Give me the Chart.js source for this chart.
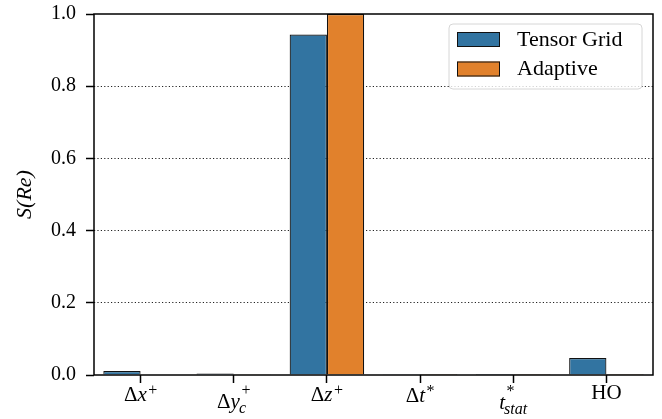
<!DOCTYPE html>
<html>
<head>
<meta charset="utf-8">
<script src="https://cdn.jsdelivr.net/npm/chart.js@4/dist/chart.umd.min.js"></script>
<style>
  html, body { margin: 0; padding: 0; background: #fff; }
  #wrap { width: 662px; height: 419px; }
</style>
</head>
<body>
<div id="wrap"><canvas id="myChart" width="662" height="419"></canvas></div>
<script>
// categories, written in a tiny TeX-like notation (^ sup, _ sub)
const categories = ['Δx^+', 'Δy_c^+', 'Δz^+', 'Δt^*', 't^*_{stat}', '\\mathrm{HO}']
const tensorGrid = [0.011, 0.004, 0.943, 0.0004, 0.0003, 0.047]
const adaptive = [0.0015, 0.0004, 1.0, 0.0002, 0.0002, 0.0025]
const yTicks = [0, 0.2, 0.4, 0.6, 0.8, 1.0]
const seriesNames = ['Tensor Grid', 'Adaptive']
const seriesColors = ['#3274a1', '#e1812c']

const SERIF = '"Liberation Serif", "DejaVu Serif", serif'

function parseMath(s) {
  let rm = false
  if (s.startsWith('\\mathrm{')) { s = s.slice(8, -1); rm = true }
  const atoms = []
  let i = 0
  const grab = () => {
    if (s[i] === '{') {
      const j = s.indexOf('}', i)
      const t = s.slice(i + 1, j)
      i = j + 1
      return t
    }
    return s[i++]
  }
  while (i < s.length) {
    const c = s[i]
    if (c === '^') { i++; atoms[atoms.length - 1].sup = grab() }
    else if (c === '_') { i++; atoms[atoms.length - 1].sub = grab() }
    else { atoms.push({ t: c, it: !rm && /[a-z]/i.test(c) }); i++ }
  }
  return atoms
}

function fontFor(size, italic) {
  return (italic ? 'italic ' : '') + size + 'px ' + SERIF
}

// draws the math-ish category labels under the x ticks
const mathLabels = {
  id: 'mathLabels',
  afterDraw(chart) {
    const { ctx, scales: { x } } = chart
    const F = 21
    const S = 16
    ctx.save()
    ctx.fillStyle = '#000'
    ctx.textBaseline = 'alphabetic'
    chart.data.labels.forEach((lab, i) => {
      const atoms = parseMath(lab)
      let width = 0
      let top = 0
      const laid = atoms.map(a => {
        ctx.font = fontFor(F, a.it)
        const m = ctx.measureText(a.t)
        top = Math.max(top, m.actualBoundingBoxAscent)
        const item = { a, x: width, w: m.width }
        width += m.width
        let extra = 0
        const both = a.sup && a.sub
        if (a.sup) {
          ctx.font = fontFor(S, /[a-z]/i.test(a.sup))
          const ms = ctx.measureText(a.sup)
          item.supShift = both ? 0.6 * F : 0.3 * F
          item.supX = width + (a.it ? 1.5 : 0.5)
          top = Math.max(top, item.supShift + ms.actualBoundingBoxAscent)
          extra = Math.max(extra, ms.width + (a.it ? 1.5 : 0.5))
        }
        if (a.sub) {
          ctx.font = fontFor(S, /[a-z]/i.test(a.sub))
          const ms = ctx.measureText(a.sub)
          item.subShift = both ? 0.28 * F : 0.2 * F
          item.subX = width - (a.it ? 1 : 0)
          extra = Math.max(extra, ms.width - (a.it ? 1 : 0))
        }
        width += extra
        return item
      })
      const cx = x.getPixelForTick(i)
      const left = cx - width / 2
      const base = x.top + 10 + top
      laid.forEach(it => {
        ctx.font = fontFor(F, it.a.it)
        ctx.fillText(it.a.t, left + it.x, base)
        if (it.a.sup) {
          ctx.font = fontFor(S, /[a-z]/i.test(it.a.sup))
          ctx.fillText(it.a.sup, left + it.supX, base - it.supShift)
        }
        if (it.a.sub) {
          ctx.font = fontFor(S, /[a-z]/i.test(it.a.sub))
          ctx.fillText(it.a.sub, left + it.subX, base + it.subShift)
        }
      })
    })
    ctx.restore()
  }
}

// axes frame on all four sides
const frame = {
  id: 'frame',
  afterDatasetsDraw(chart) {
    const { ctx, chartArea: a } = chart
    ctx.save()
    ctx.strokeStyle = '#000'
    ctx.lineWidth = 1.5
    ctx.strokeRect(a.left, a.top, a.right - a.left, a.bottom - a.top)
    ctx.restore()
  }
}

// boxed legend in the upper right corner
const boxLegend = {
  id: 'boxLegend',
  afterDraw(chart) {
    const { ctx, chartArea: a } = chart
    const w = 193, h = 65
    const x0 = a.right - 11 - w, y0 = a.top + 10
    ctx.save()
    ctx.beginPath()
    ctx.roundRect(x0, y0, w, h, 4)
    ctx.fillStyle = 'rgba(255,255,255,0.8)'
    ctx.fill()
    ctx.strokeStyle = '#d6d6d6'
    ctx.lineWidth = 1
    ctx.stroke()
    chart.data.datasets.forEach((ds, i) => {
      const sy = y0 + 8 + i * 29.5
      ctx.fillStyle = ds.backgroundColor
      ctx.fillRect(x0 + 8, sy, 43, 15)
      ctx.strokeStyle = '#111'
      ctx.lineWidth = 1
      ctx.strokeRect(x0 + 8.5, sy + 0.5, 42, 14)
      ctx.fillStyle = '#000'
      ctx.font = '22px ' + SERIF
      ctx.textBaseline = 'middle'
      ctx.fillText(ds.label, x0 + 68, sy + 8)
    })
    ctx.restore()
  }
}

const ctx = document.getElementById('myChart').getContext('2d')
new Chart(ctx, {
  type: 'bar',
  data: {
    labels: categories,
    datasets: [
      { label: seriesNames[0], data: tensorGrid, backgroundColor: seriesColors[0] },
      { label: seriesNames[1], data: adaptive, backgroundColor: seriesColors[1] }
    ]
  },
  options: {
    responsive: false,
    animation: false,
    devicePixelRatio: 1,
    layout: { padding: { top: 14, right: 9, bottom: 0, left: 0 } },
    datasets: {
      bar: {
        categoryPercentage: 0.8,
        barPercentage: 1.0,
        borderColor: '#111',
        borderWidth: 1.2
      }
    },
    plugins: {
      legend: { display: false },
      tooltip: { enabled: false }
    },
    scales: {
      x: {
        grid: { offset: false, drawOnChartArea: false, tickLength: 8, tickColor: '#000', tickWidth: 1.5 },
        border: { display: false },
        ticks: { display: false },
        afterFit: s => { s.height = 44; s.paddingLeft = 0; s.paddingRight = 0 }
      },
      y: {
        min: 0,
        max: 1,
        afterBuildTicks: s => { s.ticks = yTicks.map(v => ({ value: v })) },
        grid: {
          color: c => (c.tick && c.tick.value > 0 && c.tick.value < 1) ? '#222' : 'rgba(0,0,0,0)',
          lineWidth: 1,
          tickLength: 8,
          tickColor: '#000',
          tickWidth: 1.5,
          tickBorderDash: []
        },
        border: { display: false, dash: [1.2, 2.2] },
        ticks: {
          padding: 10,
          color: '#000',
          font: { family: SERIF, size: 20 },
          callback: v => Number(v).toFixed(1)
        },
        title: {
          display: true,
          text: 'S(Re)',
          color: '#000',
          font: { family: SERIF, size: 22, style: 'italic' },
          padding: { top: 12, bottom: 0 }
        },
        afterFit: s => { s.width = 94; s.paddingTop = 0; s.paddingBottom = 0 }
      }
    }
  },
  plugins: [frame, mathLabels, boxLegend]
})
</script>
</body>
</html>
